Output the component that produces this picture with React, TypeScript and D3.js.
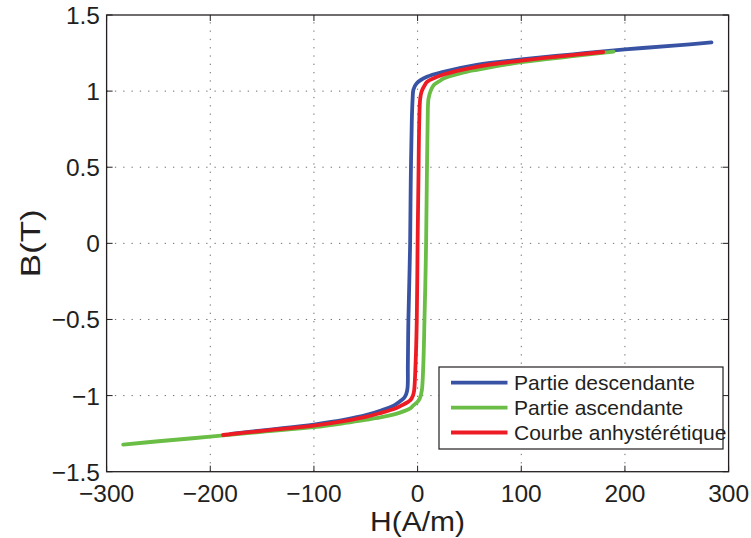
import React from "react";
import * as d3 from "d3";

const xTicks = [-300, -200, -100, 0, 100, 200, 300];
const yTicks = [-1.5, -1, -0.5, 0, 0.5, 1, 1.5];
const yTickLabels = ["−1.5", "−1", "−0.5", "0", "0.5", "1", "1.5"];
const xTickLabels = ["−300", "−200", "−100", "0", "100", "200", "300"];

const seriesNames = ["Partie descendante", "Partie ascendante", "Courbe anhystérétique"];
const seriesColors = ["#3953A4", "#6ABD45", "#ED1C24"];

// Partie descendante (H decreasing)
const descH = [283.5, 250, 200, 150, 100, 57, 25, 9, -1, -4, -4.8, -5.6, -6.6, -7.2, -8, -8.9, -9.4, -9.7, -11, -13, -17, -23.6, -36, -49, -70, -100, -140, -180];
const descB = [1.32, 1.3, 1.274, 1.242, 1.208, 1.173, 1.127, 1.094, 1.05, 1.01, 0.95, 0.8, 0.41, 0, -0.25, -0.51, -0.8, -0.95, -0.99, -1.015, -1.038, -1.068, -1.1, -1.127, -1.158, -1.19, -1.222, -1.252];

// Partie ascendante (H increasing)
const ascH = [-284, -250, -200, -150, -100, -70, -49, -36, -23.6, -17, -8, -4.3, 0, 2, 4, 5.5, 6.6, 7.5, 8.2, 8.9, 9.7, 10.5, 12.5, 15.6, 22, 25, 41, 57, 100, 150, 189];
const ascB = [-1.322, -1.3, -1.27, -1.238, -1.207, -1.18, -1.158, -1.143, -1.125, -1.112, -1.088, -1.066, -1.04, -1.02, -0.97, -0.8, -0.51, -0.25, 0, 0.41, 0.8, 0.95, 1.0, 1.04, 1.07, 1.083, 1.117, 1.14, 1.19, 1.23, 1.26];

// Courbe anhystérétique
const anhH = [-187.6, -150, -100, -70, -49, -36, -23.6, -17, -7, -4.5, -3.4, -2, -0.8, 0, 0.8, 1.6, 2.5, 4, 7, 9, 25, 57, 100, 140, 179];
const anhB = [-1.259, -1.232, -1.197, -1.166, -1.138, -1.115, -1.09, -1.07, -1.03, -1.0, -0.97, -0.8, -0.51, 0, 0.41, 0.8, 0.95, 1.0, 1.04, 1.06, 1.109, 1.16, 1.2, 1.23, 1.257];

const W = 751;
const H = 538;
const left = 106.6;
const right = 728.6;
const top = 15;
const bottom = 471.7;
const FONT = "'Liberation Sans', Arial, Helvetica, sans-serif";
const TEXT = "#231F20";

export default function App() {
  const x = d3.scaleLinear().domain([-300, 300]).range([left, right]);
  const y = d3.scaleLinear().domain([-1.5, 1.5]).range([bottom, top]);

  const line = d3
    .line<[number, number]>()
    .x((d) => x(d[0]))
    .y((d) => y(d[1]))
    .curve(d3.curveCatmullRom.alpha(0.5));

  const zip = (hs: number[], bs: number[]) => hs.map((h, i) => [h, bs[i]] as [number, number]);
  const series = [zip(descH, descB), zip(ascH, ascB), zip(anhH, anhB)];

  const tickLen = 6;
  const legX = 439;
  const legY = 367;
  const legW = 284;
  const legH = 82;
  const rowY = [382.7, 407.7, 432.5];

  return (
    <svg width={W} height={H} style={{ position: "absolute", left: 0, top: 0, background: "#fff" }}>
      <rect x={0} y={0} width={W} height={H} fill="#fff" />
      {/* grid */}
      <g stroke="#6d6d6d" strokeWidth={1} strokeDasharray="1.3 7">
        {xTicks.slice(1, -1).map((t) => (
          <line key={"gx" + t} x1={x(t)} x2={x(t)} y1={bottom} y2={top} />
        ))}
        {yTicks.slice(1, -1).map((t) => (
          <line key={"gy" + t} x1={left} x2={right} y1={y(t)} y2={y(t)} />
        ))}
      </g>
      {/* curves */}
      {series.map((s, i) => (
        <path
          key={"s" + i}
          d={line(s) || ""}
          fill="none"
          stroke={seriesColors[i]}
          strokeWidth={3.8}
          strokeLinecap="round"
          strokeLinejoin="round"
        />
      ))}
      {/* ticks */}
      <g stroke="#231F20" strokeWidth={1}>
        {xTicks.map((t) => (
          <g key={"tx" + t}>
            <line x1={x(t)} x2={x(t)} y1={bottom} y2={bottom - tickLen} />
            <line x1={x(t)} x2={x(t)} y1={top} y2={top + tickLen} />
          </g>
        ))}
        {yTicks.map((t) => (
          <g key={"ty" + t}>
            <line x1={left} x2={left + tickLen} y1={y(t)} y2={y(t)} />
            <line x1={right} x2={right - tickLen} y1={y(t)} y2={y(t)} />
          </g>
        ))}
      </g>
      {/* frame */}
      <rect x={left} y={top} width={right - left} height={bottom - top} fill="none" stroke="#231F20" strokeWidth={1.3} />
      {/* tick labels */}
      <g fontFamily={FONT} fontSize={24.5} fill={TEXT}>
        {xTicks.map((t, i) => (
          <text key={"lx" + t} x={x(t)} y={502} textAnchor="middle">
            {xTickLabels[i]}
          </text>
        ))}
        {yTicks.map((t, i) => (
          <text key={"ly" + t} x={100} y={y(t) + 9} textAnchor="end">
            {yTickLabels[i]}
          </text>
        ))}
      </g>
      {/* axis labels */}
      <text
        x={(left + right) / 2}
        y={531}
        textAnchor="middle"
        fontFamily={FONT}
        fontSize={28}
        fill={TEXT}
        textLength={95}
        lengthAdjust="spacingAndGlyphs"
      >
        H(A/m)
      </text>
      <text
        transform={`translate(40, ${(top + bottom) / 2}) rotate(-90)`}
        textAnchor="middle"
        fontFamily={FONT}
        fontSize={28}
        fill={TEXT}
        textLength={68}
        lengthAdjust="spacingAndGlyphs"
      >
        B(T)
      </text>
      {/* legend */}
      <rect x={legX} y={legY} width={legW} height={legH} fill="#fff" stroke="#231F20" strokeWidth={1.2} />
      {seriesNames.map((n, i) => (
        <g key={"leg" + i}>
          <line x1={451} x2={507.5} y1={rowY[i]} y2={rowY[i]} stroke={seriesColors[i]} strokeWidth={3.8} />
          <text x={514} y={rowY[i] + 7.5} fontFamily={FONT} fontSize={21} fill={TEXT}>
            {n}
          </text>
        </g>
      ))}
    </svg>
  );
}
